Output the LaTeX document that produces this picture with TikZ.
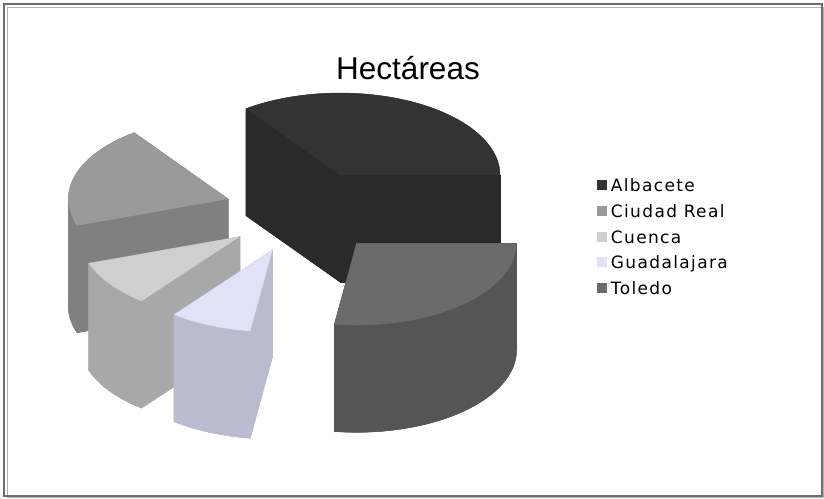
\documentclass[tikz,border=0pt]{standalone}
\usepackage{fontspec}
\setmainfont{Liberation Sans}
\newfontfamily\legendfont[LetterSpace=8]{DejaVu Sans}
\usetikzlibrary{positioning}

\definecolor{albtop}{HTML}{333333}
\definecolor{albside}{HTML}{2A2A2A}
\definecolor{crtop}{HTML}{9A9A9A}
\definecolor{crside}{HTML}{808080}
\definecolor{cuetop}{HTML}{CFCFCF}
\definecolor{cueside}{HTML}{A8A8A8}
\definecolor{guatop}{HTML}{E1E1F7}
\definecolor{guaside}{HTML}{BBBBD0}
\definecolor{toltop}{HTML}{6B6B6B}
\definecolor{tolside}{HTML}{555555}
\definecolor{framedark}{HTML}{6E6E6E}
\definecolor{framelight}{HTML}{B4B4B4}

\newcommand{\rx}{160}
\newcommand{\ry}{82}
\newcommand{\dep}{107}

% curved side of a slice between two angles
\newcommand{\pieband}[5]{
  \fill[side,#5] plot[domain=#3:#4] ({#1+\rx*cos(\x)},{#2+\ry*sin(\x)}) -- plot[domain=#4:#3] ({#1+\rx*cos(\x)},{#2+\dep+\ry*sin(\x)}) -- cycle;
}
% one exploded slice: centre x, centre y, start, split, end, top colour, side colour
\newcommand{\piewedge}[7]{
  \fill[side,#7] (#1,#2+\dep) -- plot[domain=#3:#5] ({#1+\rx*cos(\x)},{#2+\dep+\ry*sin(\x)}) -- cycle;
  \fill[side,#7] (#1,#2) -- ({#1+\rx*cos(#3)},{#2+\ry*sin(#3)}) -- ({#1+\rx*cos(#3)},{#2+\dep+\ry*sin(#3)}) -- (#1,#2+\dep) -- cycle;
  \fill[side,#7] (#1,#2) -- ({#1+\rx*cos(#5)},{#2+\ry*sin(#5)}) -- ({#1+\rx*cos(#5)},{#2+\dep+\ry*sin(#5)}) -- (#1,#2+\dep) -- cycle;
  \pieband{#1}{#2}{#3}{#4}{#7}
  \pieband{#1}{#2}{#4}{#5}{#7}
  \fill[#6] (#1,#2) -- plot[domain=#3:#5] ({#1+\rx*cos(\x)},{#2+\ry*sin(\x)}) -- cycle;
}

\begin{document}
\begin{tikzpicture}[x=1bp,y=-1bp,samples=40,
  side/.style={draw=#1,line width=0.3bp},
  swatch node/.style={rectangle,minimum size=10bp,inner sep=0pt},
  legend node/.style={font=\legendfont\fontsize{17bp}{20bp}\selectfont,inner sep=0pt,
    text height=12.4bp,text depth=0pt}]
  \useasboundingbox (0,0) rectangle (824,499);

  % frame
  \draw[framelight,line width=1bp] (7.5,7.5) rectangle (823.5,497.5);
  \draw[framedark,line width=2bp] (4,4) rectangle (822,495.5);

  \node[font=\fontsize{31.5bp}{36bp}\selectfont,anchor=base,inner sep=0pt] (title) at (408,80) {Hectáreas};

  % slices, back to front
  \piewedge{340}{175}{234}{300}{360}{albtop}{albside}
  \piewedge{228.3}{199}{161}{180}{234}{crtop}{crside}
  \piewedge{240}{236.5}{128}{145}{161}{cuetop}{cueside}
  \piewedge{272.5}{250}{98}{113}{128}{guatop}{guaside}
  \piewedge{356.5}{243.3}{0}{50}{98}{toltop}{tolside}

  % legend
  \node[swatch node,fill=albtop] (sw1) at (601.5,185.5) {};
  \node[swatch node,fill=crtop] (sw2) at (601.5,211) {};
  \node[swatch node,fill=cuetop] (sw3) at (601.5,237) {};
  \node[swatch node,fill=guatop] (sw4) at (601.5,262.5) {};
  \node[swatch node,fill=toltop] (sw5) at (601.5,288) {};

  \node[legend node,right=4bp of sw1] (alb) {Albacete};
  \node[legend node,right=4bp of sw2] (cr) {Ciudad Real};
  \node[legend node,right=4bp of sw3] (cue) {Cuenca};
  \node[legend node,right=4bp of sw4] (gua) {Guadalajara};
  \node[legend node,right=4bp of sw5] (tol) {Toledo};
\end{tikzpicture}
\end{document}
